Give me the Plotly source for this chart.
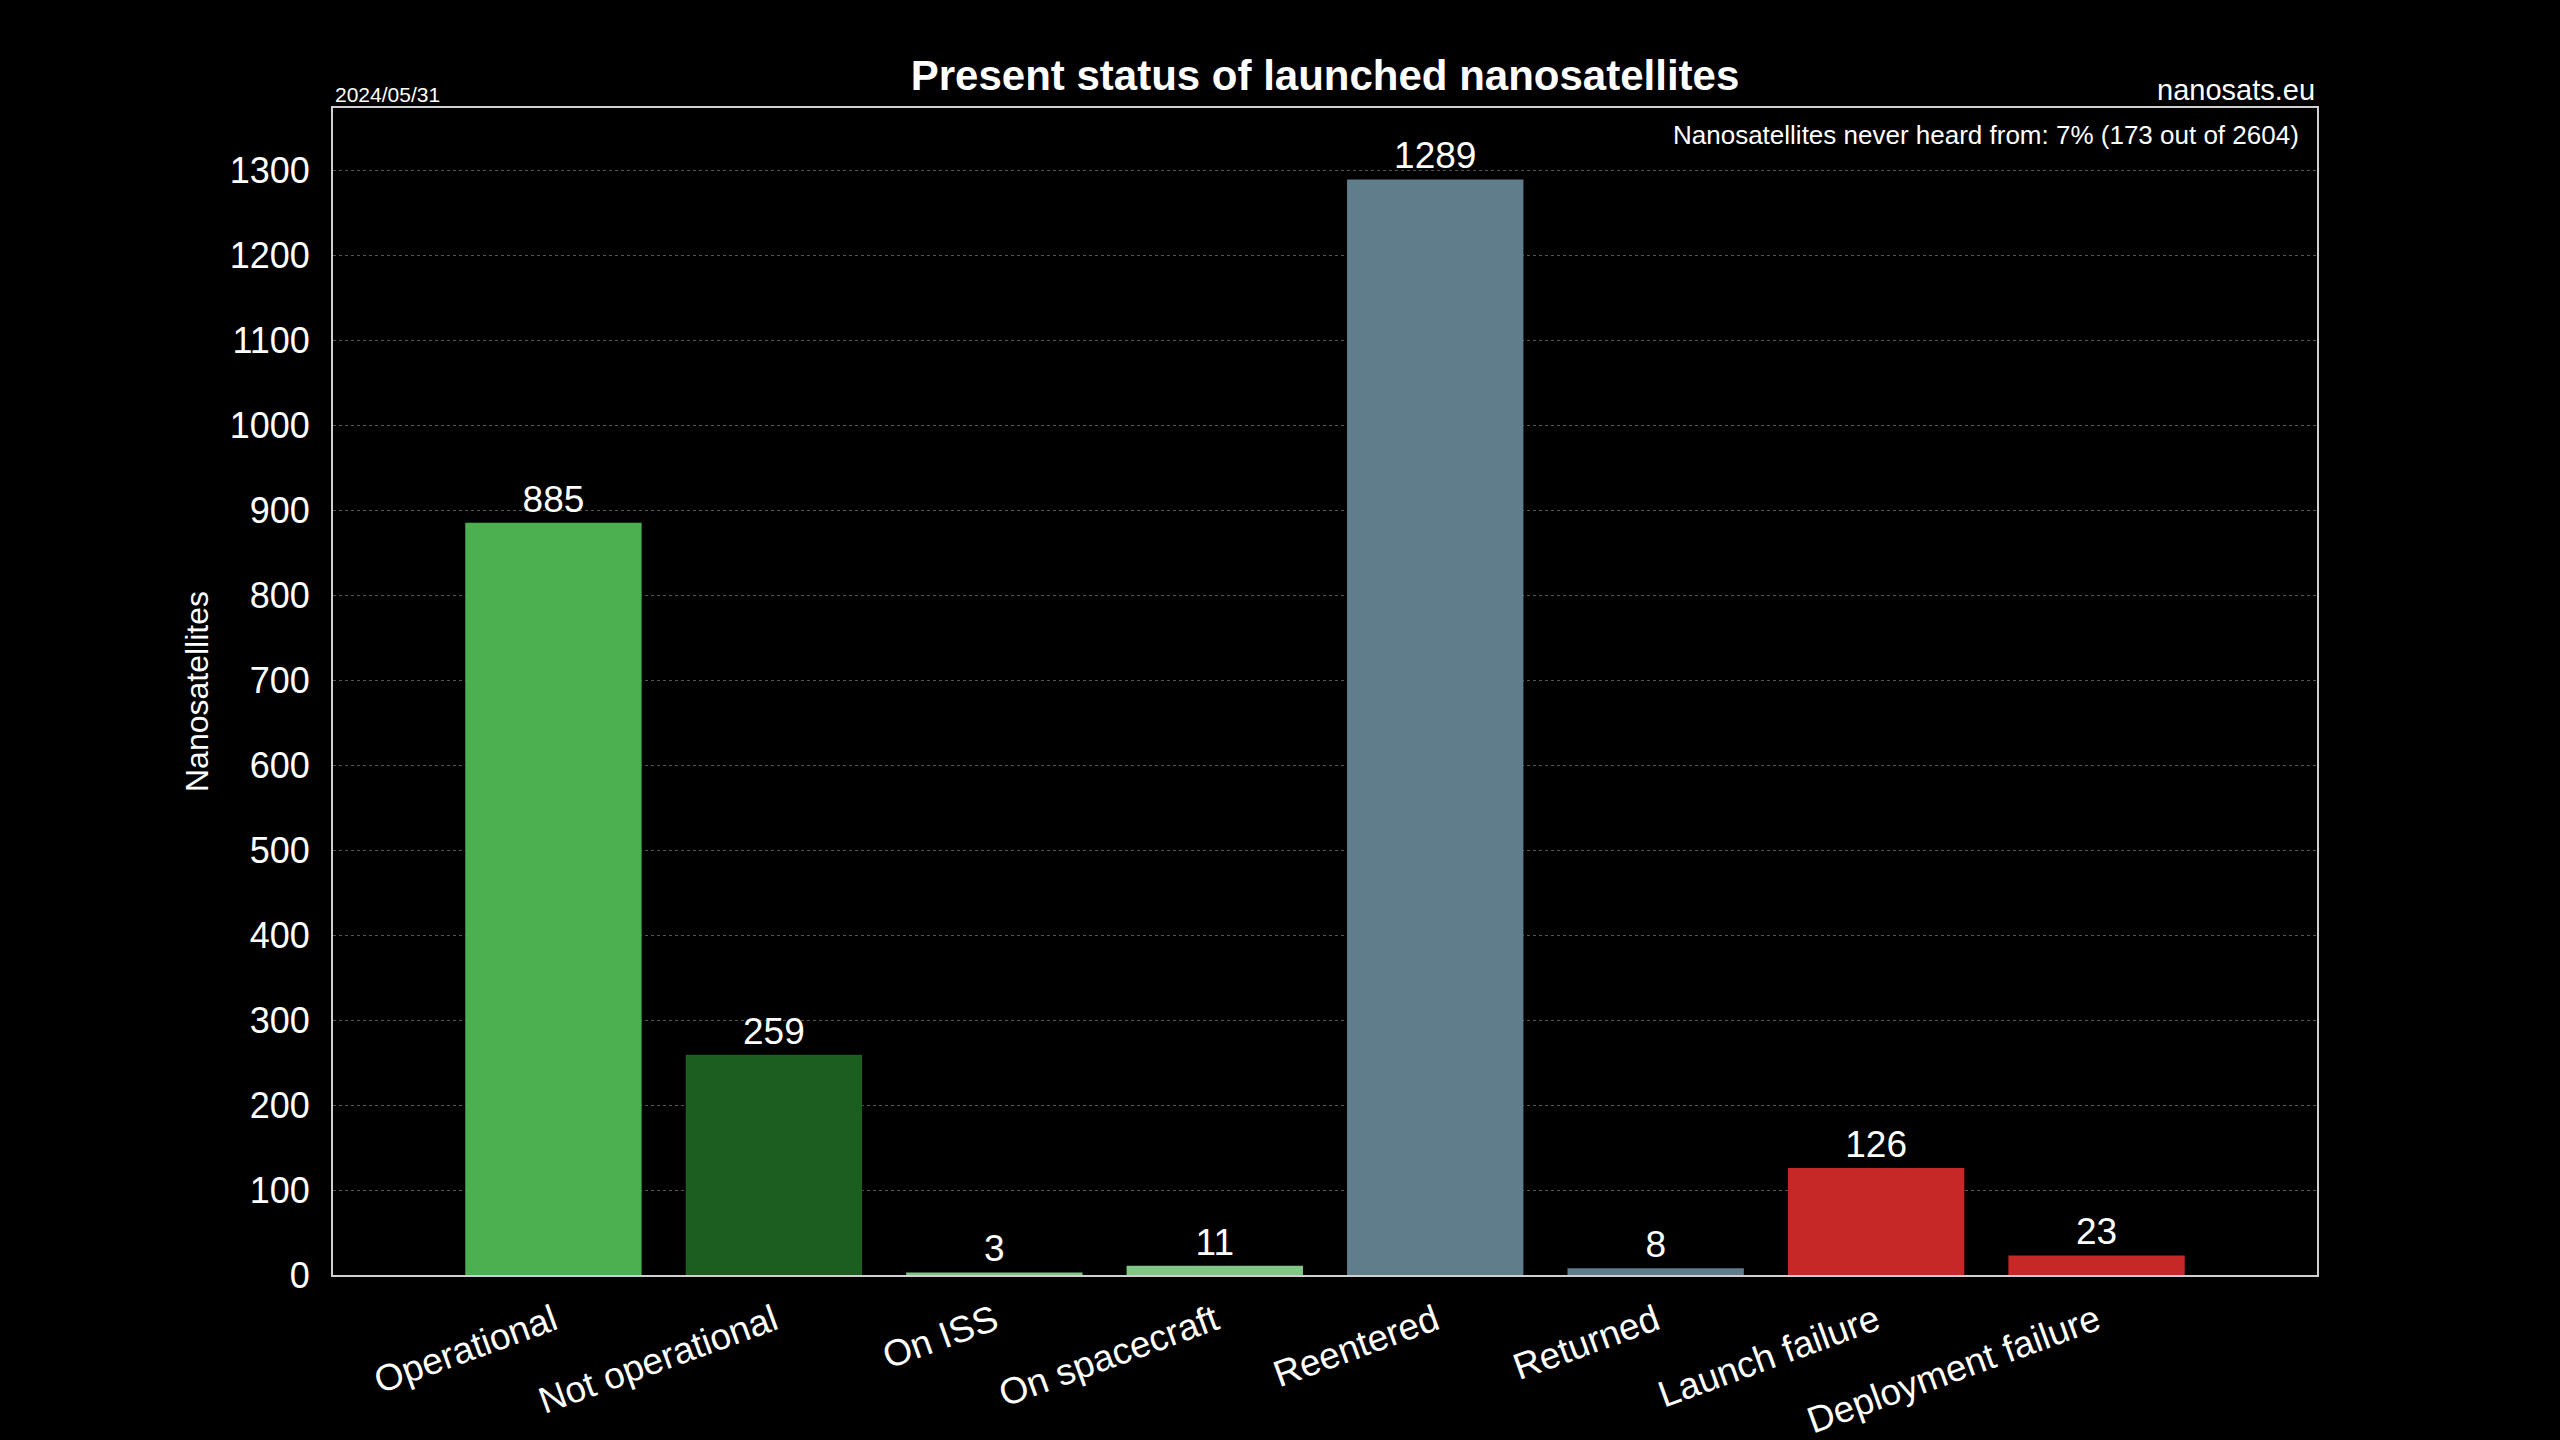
import plotly.graph_objects as go

categories = ["Operational", "Not operational", "On ISS", "On spacecraft",
              "Reentered", "Returned", "Launch failure", "Deployment failure"]
values = [885, 259, 3, 11, 1289, 8, 126, 23]
colors = ["#4CAF50", "#1B5E20", "#81C784", "#81C784",
          "#607D8B", "#607D8B", "#C62828", "#C62828"]
y_ticks = list(range(0, 1301, 100))

FONT = "Liberation Sans, Arial, sans-serif"

fig = go.Figure(go.Bar(
    x=categories, y=values,
    marker=dict(color=colors, line=dict(width=0)),
    width=0.8,
    text=[str(v) for v in values],
    textposition="outside",
    textfont=dict(color="white", size=37, family=FONT),
    cliponaxis=False,
))

fig.update_layout(
    width=2560, height=1440,
    paper_bgcolor="black", plot_bgcolor="black",
    margin=dict(l=333, r=243, t=108, b=165, autoexpand=False),
    font=dict(family=FONT, color="white"),
    showlegend=False,
    title=dict(text="<b>Present status of launched nanosatellites</b>",
               x=0.5, xref="paper", xanchor="center",
               y=1 - 75 / 1440, yref="container", yanchor="middle",
               font=dict(size=42, color="white", family=FONT)),
    xaxis=dict(range=[-1, 8], showgrid=False, tickangle=-20,
               tickfont=dict(size=37, color="white"), automargin=False,
               showline=True, linecolor="#d0d0d0", linewidth=2, mirror=True,
               ticks="", zeroline=False, ticklabelstandoff=8),
    yaxis=dict(range=[0, 1373], tickvals=y_ticks, automargin=False,
               tickfont=dict(size=36, color="white"),
               showgrid=True, gridcolor="#555555", griddash="dot", gridwidth=1,
               showline=True, linecolor="#d0d0d0", linewidth=2, mirror=True,
               ticks="", ticklabelstandoff=14, zeroline=False,
               title=dict(text="Nanosatellites", font=dict(size=32, color="white"),
                          standoff=12)),
    annotations=[
        dict(text="2024/05/31", x=0, xref="paper", y=1, yref="paper",
             xanchor="left", yanchor="bottom", showarrow=False, yshift=0,
             font=dict(size=21, color="white")),
        dict(text="nanosats.eu", x=1, xref="paper", y=1, yref="paper",
             xanchor="right", yanchor="bottom", showarrow=False, yshift=0,
             font=dict(size=29, color="white")),
        dict(text="Nanosatellites never heard from: 7% (173 out of 2604)",
             x=1, xref="paper", y=1, yref="paper",
             xanchor="right", yanchor="top", showarrow=False,
             xshift=-16, yshift=-10,
             font=dict(size=26, color="white")),
    ],
)

fig.write_html(
    "out.html",
    config={"displayModeBar": False},
    post_script="document.body.style.margin='0';document.body.style.background='black';",
)
